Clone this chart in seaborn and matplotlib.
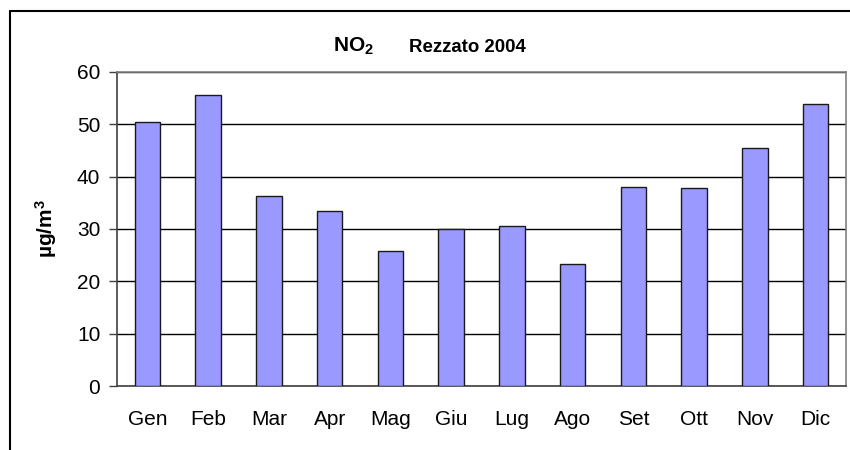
import matplotlib
matplotlib.use("Agg")
import matplotlib.pyplot as plt
import seaborn as sns
import pandas as pd
from matplotlib.lines import Line2D

mesi = ["Gen", "Feb", "Mar", "Apr", "Mag", "Giu", "Lug", "Ago", "Set", "Ott", "Nov", "Dic"]
no2 = [50.4, 55.6, 36.4, 33.5, 25.8, 30.0, 30.6, 23.4, 38.0, 37.8, 45.4, 53.9]
y_ticks = [0, 10, 20, 30, 40, 50, 60]

df = pd.DataFrame({"mese": mesi, "no2": no2})

sns.set_style("white")
plt.rcParams['font.family'] = ['Liberation Sans', 'DejaVu Sans']
plt.rcParams['mathtext.fontset'] = 'custom'
plt.rcParams['mathtext.rm'] = 'Liberation Sans'
plt.rcParams['mathtext.bf'] = 'Liberation Sans:bold'
plt.rcParams['mathtext.default'] = 'bf'
plt.rcParams['text.color'] = 'black'
plt.rcParams['axes.labelcolor'] = 'black'
plt.rcParams['xtick.color'] = 'black'
plt.rcParams['ytick.color'] = 'black'

fig = plt.figure(figsize=(8.5, 4.5), dpi=100)
ax = fig.add_axes([117 / 850, 1 - 386 / 450, (846 - 117) / 850, (386 - 72) / 450])

sns.barplot(data=df, x="mese", y="no2", color="#9999FF", edgecolor="#1a1a1a",
            linewidth=1, width=0.42, saturation=1, ax=ax, zorder=3)

ax.set_xlim(-0.5, len(mesi) - 0.5)
ax.set_ylim(0, 60)
ax.set_yticks(y_ticks)
ax.set_xlabel("")
ax.set_ylabel("µg/m$^3$", fontsize=15, fontweight="bold", labelpad=13)

ax.yaxis.grid(True, color="black", linewidth=1, zorder=0)
ax.set_axisbelow(True)

# x ticks between categories, labels at centres
ax.set_xticks([i - 0.5 for i in range(len(mesi) + 1)], minor=True)
ax.tick_params(axis="x", which="major", length=0, labelsize=15, pad=17)
ax.tick_params(axis="x", which="minor", length=6, width=1, color="#404040", direction="out")
ax.tick_params(axis="y", length=6, width=1, color="#404040", direction="out", labelsize=15, pad=6, left=True)

for side in ["top", "right"]:
    ax.spines[side].set_color("#808080")
    ax.spines[side].set_linewidth(1.2)
for side in ["left", "bottom"]:
    ax.spines[side].set_color("#404040")
    ax.spines[side].set_linewidth(1.2)

# title
fig.text(333 / 850, 1 - 51.7 / 450, r"$\mathbf{NO_2}$", fontsize=15, va="baseline", ha="left")
fig.text(409 / 850, 1 - 51.7 / 450, "Rezzato 2004", fontsize=13.4, fontweight="bold",
         va="baseline", ha="left")

# outer chart frame (cropped at right and bottom)
fig.add_artist(Line2D([9.5 / 850, 9.5 / 850], [0, 1 - 11 / 450], transform=fig.transFigure,
                      color="black", linewidth=1.5))
fig.add_artist(Line2D([9.5 / 850, 1], [1 - 11 / 450, 1 - 11 / 450], transform=fig.transFigure,
                      color="black", linewidth=1.5))

fig.savefig("out.png", dpi=100)
